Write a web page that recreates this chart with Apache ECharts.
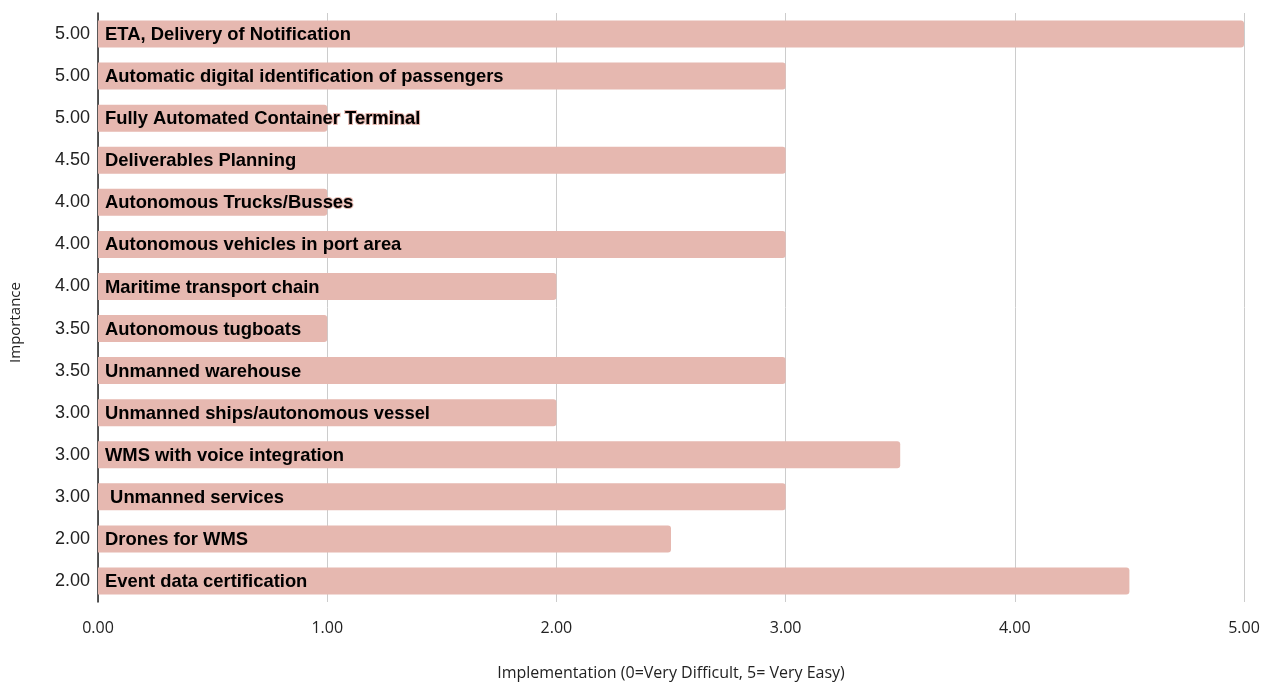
<!DOCTYPE html>
<html>
<head>
<meta charset="utf-8">
<script src="https://cdn.jsdelivr.net/npm/echarts@6/dist/echarts.min.js"></script>
<style>html,body{margin:0;padding:0;background:#fff}#c{width:1280px;height:688px}</style>
</head>
<body>
<div id="c"></div>
<script>
const names = ["ETA, Delivery of Notification","Automatic digital identification of passengers","Fully Automated Container Terminal","Deliverables Planning","Autonomous Trucks/Busses","Autonomous vehicles in port area","Maritime transport chain","Autonomous tugboats","Unmanned warehouse","Unmanned ships/autonomous vessel","WMS with voice integration"," Unmanned services","Drones for WMS","Event data certification"];
const importance = ["5.00","5.00","5.00","4.50","4.00","4.00","4.00","3.50","3.50","3.00","3.00","3.00","2.00","2.00"];
const implementation = [5, 3, 1, 3, 1, 3, 2, 1, 3, 2, 3.5, 3, 2.5, 4.5];
const xTicks = [0, 1, 2, 3, 4, 5];

const chart = echarts.init(document.getElementById('c'));
const barColor = '#e6b8b0';
chart.setOption({
  animation: false,
  grid: {left: 98, right: 36, top: 13, bottom: 86, containLabel: false},
  xAxis: {
    type: 'value', min: xTicks[0], max: xTicks[xTicks.length-1], interval: 1,
    name: 'Implementation (0=Very Difficult, 5= Very Easy)',
    nameLocation: 'middle', nameGap: 63,
    nameTextStyle: {fontFamily: 'Open Sans', fontSize: 16, color: '#222'},
    axisLine: {show: false}, axisTick: {show: false},
    axisLabel: {margin: 18, fontFamily: 'Open Sans', fontSize: 16, color: '#222', formatter: v => v.toFixed(2)},
    splitLine: {show: true, lineStyle: {color: '#cccccc', width: 1}}
  },
  yAxis: {
    type: 'category', inverse: true, data: names,
    name: 'Importance', nameLocation: 'middle', nameGap: 75, nameRotate: 90,
    nameTextStyle: {fontFamily: 'Open Sans', fontSize: 15, color: '#222', padding: [0, 30, 0, 0]},
    axisLine: {show: true, lineStyle: {color: '#222', width: 1.5}},
    axisTick: {show: false},
    axisLabel: {margin: 8, fontFamily: 'Liberation Sans', fontSize: 18, color: '#222',
      formatter: (v, i) => importance[i]}
  },
  series: [{
    type: 'bar', data: implementation, barWidth: 27,
    itemStyle: {color: barColor, borderRadius: [0, 3, 3, 0]},
    label: {show: true, position: 'insideLeft', distance: 7, offset: [0, 1],
      formatter: p => names[p.dataIndex],
      fontFamily: 'Liberation Sans', fontWeight: 'bold', fontSize: 18.4, color: '#000',
      textBorderColor: barColor, textBorderWidth: 2}
  }]
});
</script>
</body>
</html>
